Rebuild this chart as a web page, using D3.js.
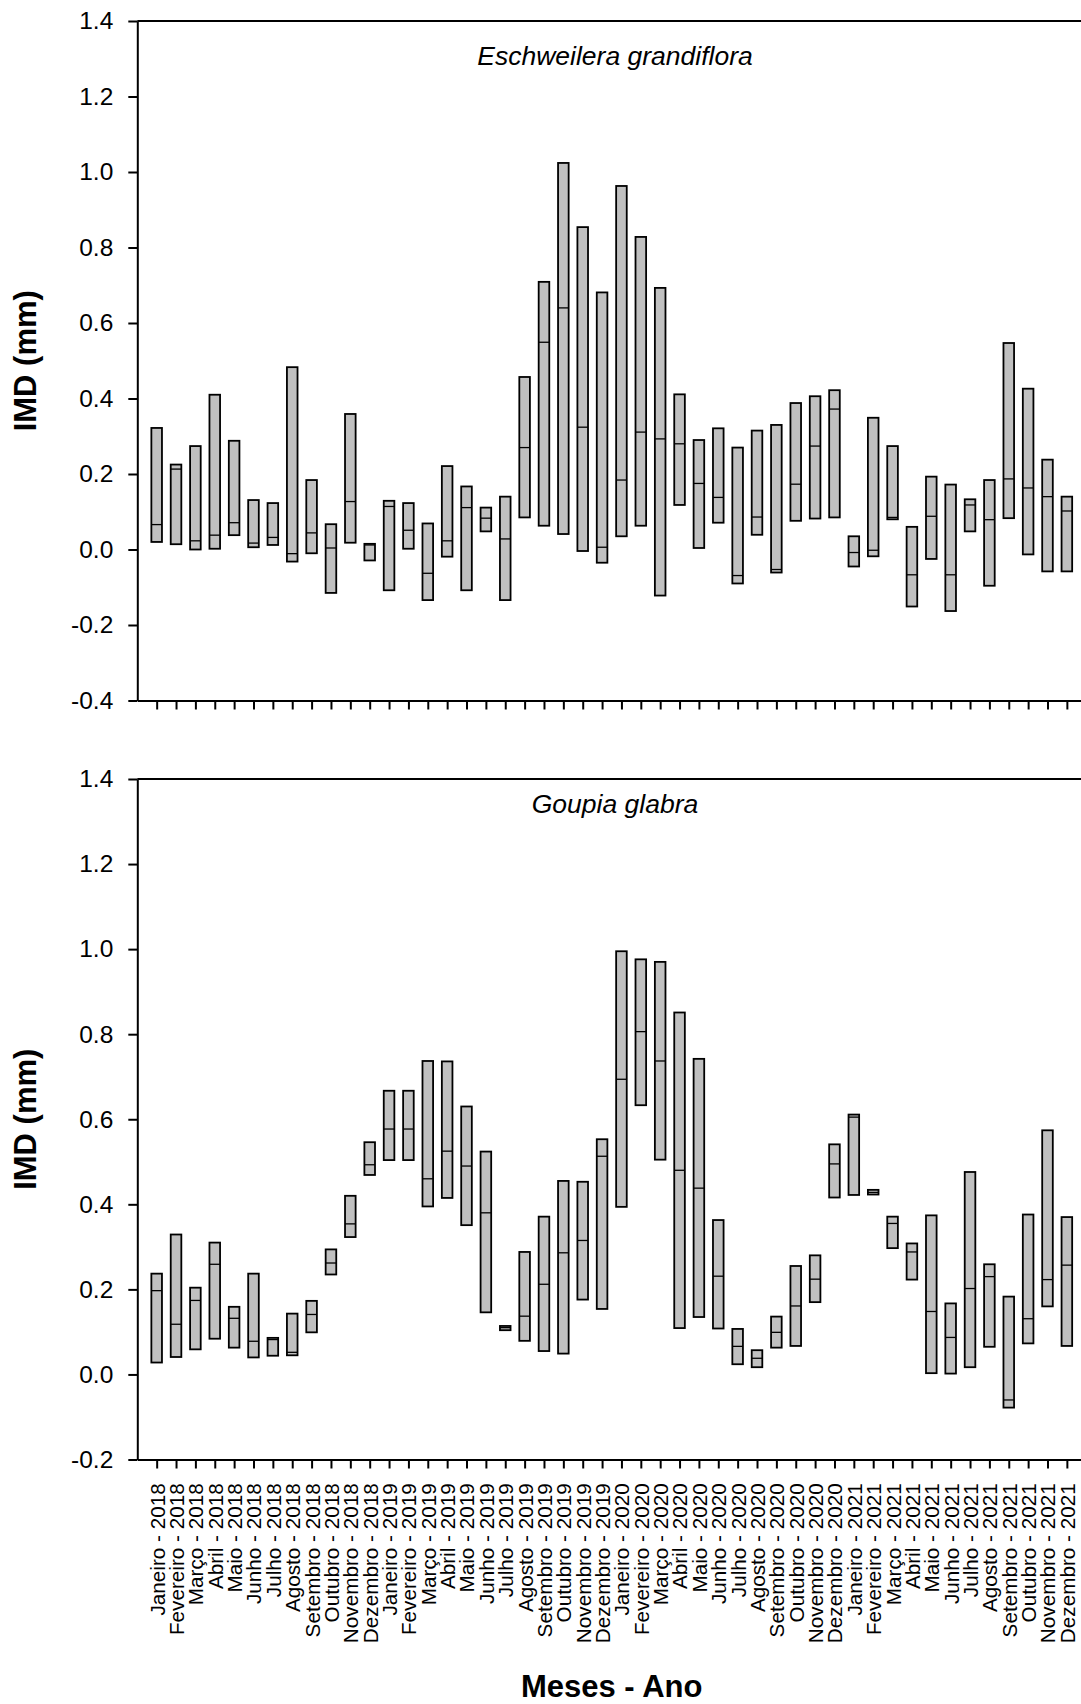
<!DOCTYPE html>
<html>
<head>
<meta charset="utf-8">
<script src="https://cdn.jsdelivr.net/npm/d3@7"></script>
<style>
  html, body { margin: 0; padding: 0; background: #fff; }
  svg { display: block; font-family: "Liberation Sans", Arial, Helvetica, sans-serif; }
</style>
</head>
<body>
<svg id="chart" width="1081" height="1704"></svg>
<script>
// Month labels (Portuguese) and study years
const months = ["Janeiro", "Fevereiro", "Março", "Abril", "Maio", "Junho",
                "Julho", "Agosto", "Setembro", "Outubro", "Novembro", "Dezembro"];
const years = [2018, 2019, 2020, 2021];
const categories = years.flatMap(y => months.map(m => `${m} - ${y}`));

// Eschweilera grandiflora: monthly diameter increment (mm) – low, median, high
const eschLow = [0.020, 0.014, 0.000, 0.002, 0.038, 0.006, 0.012, -0.032, -0.010, -0.115, 0.018, -0.029,
                 -0.108, 0.002, -0.134, -0.019, -0.108, 0.048, -0.134, 0.085, 0.063, 0.041, -0.004, -0.035,
                 0.035, 0.063, -0.122, 0.118, 0.004, 0.071, -0.090, 0.039, -0.061, 0.076, 0.082, 0.085,
                 -0.045, -0.018, 0.080, -0.151, -0.025, -0.163, 0.048, -0.096, 0.083, -0.013, -0.058, -0.058];
const eschMed = [0.066, 0.213, 0.023, 0.038, 0.071, 0.017, 0.032, -0.011, 0.044, 0.004, 0.127, 0.012,
                 0.114, 0.051, -0.063, 0.023, 0.111, 0.083, 0.028, 0.270, 0.549, 0.640, 0.324, 0.006,
                 0.184, 0.311, 0.293, 0.280, 0.175, 0.138, -0.069, 0.086, -0.053, 0.173, 0.274, 0.372,
                 -0.008, -0.002, 0.085, -0.067, 0.088, -0.067, 0.118, 0.079, 0.187, 0.163, 0.140, 0.102];
const eschHigh = [0.322, 0.225, 0.274, 0.410, 0.288, 0.131, 0.123, 0.483, 0.184, 0.067, 0.359, 0.015,
                  0.129, 0.123, 0.069, 0.221, 0.167, 0.111, 0.140, 0.457, 0.709, 1.024, 0.854, 0.681,
                  0.963, 0.828, 0.693, 0.411, 0.290, 0.321, 0.270, 0.315, 0.330, 0.388, 0.406, 0.422,
                  0.035, 0.349, 0.274, 0.060, 0.193, 0.172, 0.133, 0.184, 0.547, 0.426, 0.238, 0.140];

// Goupia glabra: monthly diameter increment (mm) – low, median, high
const goupLow = [0.028, 0.041, 0.059, 0.084, 0.063, 0.040, 0.044, 0.045, 0.099, 0.235, 0.323, 0.469,
                 0.504, 0.504, 0.395, 0.415, 0.351, 0.146, 0.104, 0.079, 0.055, 0.049, 0.176, 0.154,
                 0.394, 0.633, 0.505, 0.109, 0.135, 0.108, 0.024, 0.017, 0.063, 0.067, 0.170, 0.416,
                 0.422, 0.423, 0.297, 0.223, 0.003, 0.002, 0.017, 0.065, -0.078, 0.073, 0.160, 0.067];
const goupMed = [0.197, 0.118, 0.174, 0.259, 0.132, 0.078, 0.082, 0.052, 0.141, 0.262, 0.354, 0.493,
                 0.577, 0.577, 0.460, 0.525, 0.490, 0.380, 0.110, 0.137, 0.212, 0.286, 0.315, 0.513,
                 0.694, 0.806, 0.737, 0.480, 0.438, 0.231, 0.066, 0.038, 0.099, 0.161, 0.224, 0.495,
                 0.605, 0.428, 0.355, 0.288, 0.148, 0.087, 0.202, 0.230, -0.060, 0.131, 0.223, 0.257];
const goupHigh = [0.237, 0.329, 0.204, 0.310, 0.159, 0.237, 0.086, 0.143, 0.173, 0.294, 0.420, 0.546,
                  0.667, 0.667, 0.737, 0.736, 0.630, 0.524, 0.114, 0.288, 0.371, 0.455, 0.453, 0.553,
                  0.995, 0.976, 0.970, 0.851, 0.742, 0.363, 0.107, 0.057, 0.136, 0.255, 0.280, 0.541,
                  0.611, 0.434, 0.371, 0.308, 0.374, 0.167, 0.476, 0.259, 0.183, 0.376, 0.574, 0.370];

// Y tick values for each panel
const topTicks = [-0.4, -0.2, 0.0, 0.2, 0.4, 0.6, 0.8, 1.0, 1.2, 1.4];
const bottomTicks = [-0.2, 0.0, 0.2, 0.4, 0.6, 0.8, 1.0, 1.2, 1.4];

const svg = d3.select("#chart");
const W = 1081;
const left = 137.3;

// Month positions 1..48 along the x axis
const x = d3.scaleLinear().domain([0, 48.73]).range([left, W]);
const idx = d3.range(1, categories.length + 1);
const barW = 10.6;

const panels = [
  { title: "Eschweilera grandiflora", low: eschLow, med: eschMed, high: eschHigh,
    domain: [-0.4, 1.4], range: [700.5, 21], ticks: topTicks, titleY: 65, labels: false },
  { title: "Goupia glabra", low: goupLow, med: goupMed, high: goupHigh,
    domain: [-0.2, 1.4], range: [1459.5, 779], ticks: bottomTicks, titleY: 812.5, labels: true }
];

panels.forEach(p => {
  const y = d3.scaleLinear().domain(p.domain).range(p.range);
  const g = svg.append("g");

  // Bars: box from low to high with the median as a line
  const rows = idx.map((i, k) => ({ i, low: p.low[k], med: p.med[k], high: p.high[k] }));
  const box = g.append("g").selectAll("g").data(rows).join("g");
  box.append("rect")
    .attr("x", d => x(d.i) - barW / 2)
    .attr("width", barW)
    .attr("y", d => y(d.high))
    .attr("height", d => Math.max(0.5, y(d.low) - y(d.high)))
    .attr("fill", "#c0c0c0")
    .attr("stroke", "#000")
    .attr("stroke-width", 1.8);
  box.append("line")
    .attr("x1", d => x(d.i) - barW / 2)
    .attr("x2", d => x(d.i) + barW / 2)
    .attr("y1", d => y(d.med))
    .attr("y2", d => y(d.med))
    .attr("stroke", "#000")
    .attr("stroke-width", 1.3);

  // Left axis
  const yAxis = g.append("g")
    .attr("transform", `translate(${left},0)`)
    .call(d3.axisLeft(y).tickValues(p.ticks).tickSize(9).tickSizeOuter(0).tickPadding(15)
      .tickFormat(d => d.toFixed(1)));
  yAxis.select(".domain").attr("stroke-width", 2);
  yAxis.selectAll(".tick line").attr("stroke-width", 2);
  yAxis.selectAll("text")
    .attr("font-size", 24.5)
    .attr("font-family", "'Liberation Sans', Arial, sans-serif")
    .attr("fill", "#000");

  // Top frame line
  g.append("line")
    .attr("x1", left).attr("x2", W)
    .attr("y1", y(1.4)).attr("y2", y(1.4))
    .attr("stroke", "#000").attr("stroke-width", 2);

  // Bottom axis with a tick per month
  const xAxis = g.append("g")
    .attr("transform", `translate(0,${y(p.domain[0])})`)
    .call(d3.axisBottom(x).tickValues(idx).tickSize(9).tickSizeOuter(0)
      .tickFormat(i => p.labels ? categories[i - 1] : ""));
  xAxis.select(".domain").attr("stroke-width", 2);
  xAxis.selectAll(".tick line").attr("stroke-width", 2);
  xAxis.selectAll("text")
    .attr("font-size", 20.7)
    .attr("font-family", "'Liberation Sans', Arial, sans-serif")
    .attr("fill", "#000")
    .attr("transform", "rotate(-90)")
    .attr("text-anchor", "end")
    .attr("x", -23.8)
    .attr("y", 0)
    .attr("dy", "0.36em");

  // Species name
  g.append("text")
    .attr("x", 615).attr("y", p.titleY)
    .attr("text-anchor", "middle")
    .attr("font-size", 26.5)
    .attr("font-style", "italic")
    .text(p.title);

  // Y axis title
  const cy = (p.range[0] + p.range[1]) / 2;
  g.append("text")
    .attr("transform", `translate(36,${cy}) rotate(-90)`)
    .attr("text-anchor", "middle")
    .attr("font-size", 31)
    .attr("font-weight", "bold")
    .text("IMD (mm)");
});

// X axis title
svg.append("text")
  .attr("x", 611.7).attr("y", 1697)
  .attr("text-anchor", "middle")
  .attr("font-size", 31)
  .attr("font-weight", "bold")
  .text("Meses - Ano");
</script>
</body>
</html>
